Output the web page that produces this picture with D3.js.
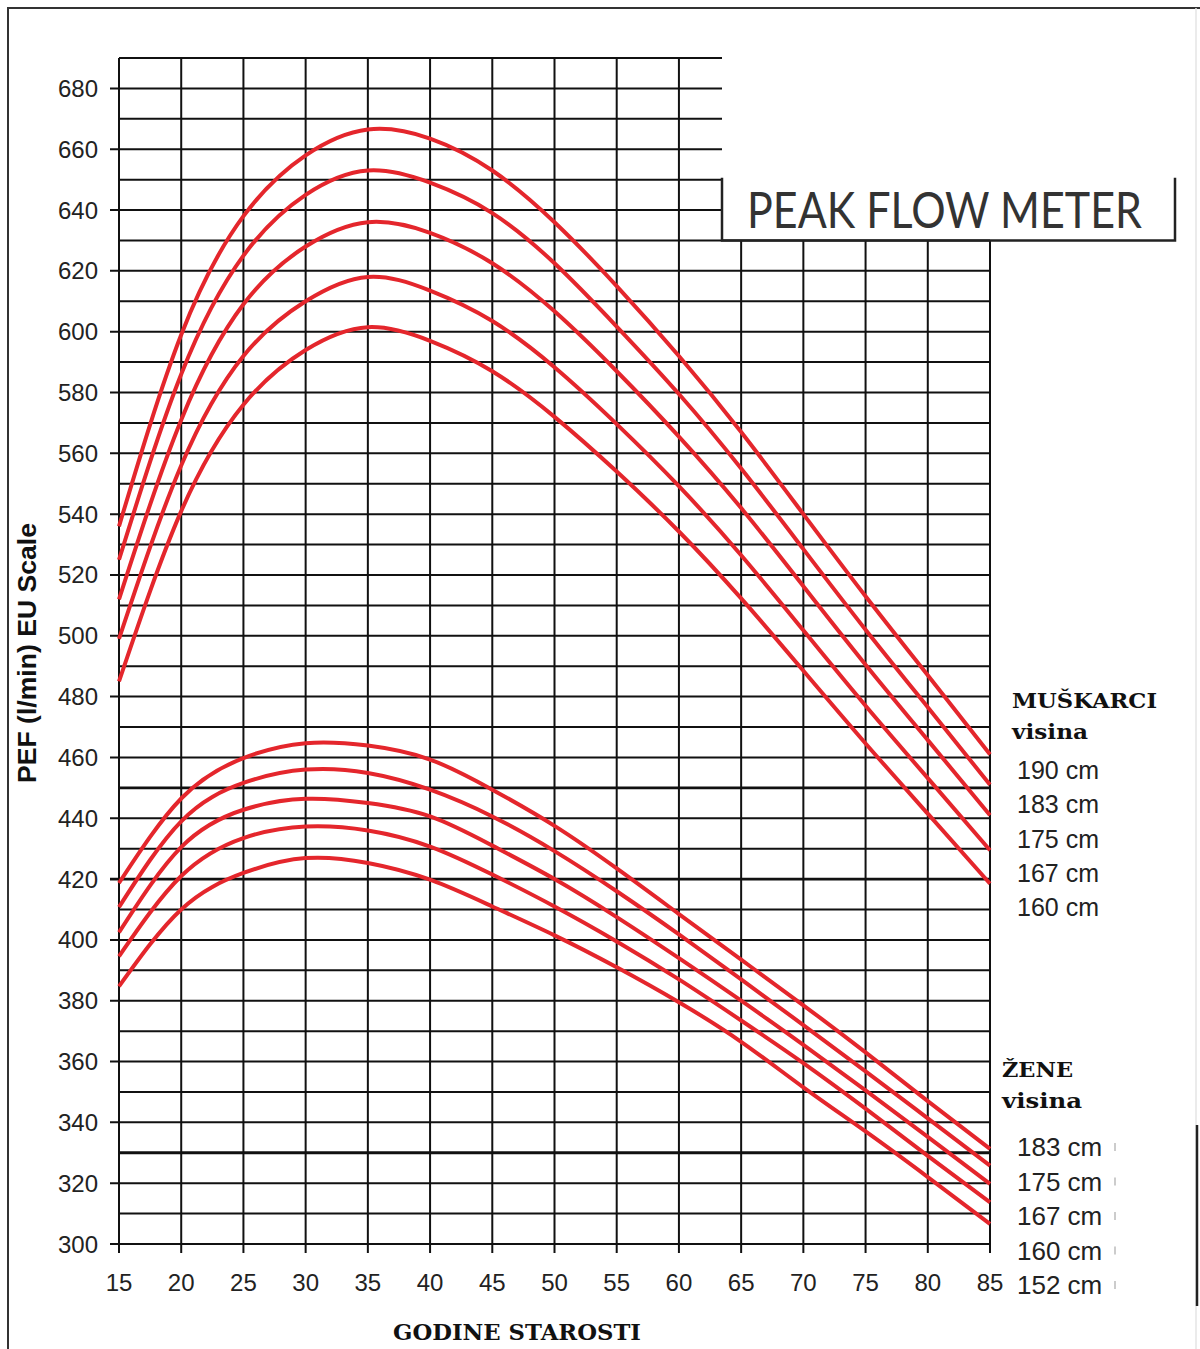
<!DOCTYPE html>
<html>
<head>
<meta charset="utf-8">
<script src="https://cdn.jsdelivr.net/npm/d3@7"></script>
<style>
  html, body { margin: 0; padding: 0; background: #fff; }
  svg { display: block; }
</style>
</head>
<body>
<svg id="chart" width="1200" height="1349"></svg>
<script>
// ---- DATA ----
const ages = [15, 20, 25, 30, 35, 40, 45, 50, 55, 60, 65, 70, 75, 80, 85];

const men190 = [536, 599, 638, 658, 666.5, 663.5, 653, 636, 615, 592, 567, 540, 513, 487, 461];
const men183 = [525, 586, 625, 645, 653, 649, 639, 622.5, 601.7, 579.5, 555, 528.5, 502, 476.5, 451];
const men175 = [512, 571, 609, 628, 636, 632.5, 622.5, 606.7, 587, 565.5, 542, 516.3, 490.5, 465.7, 441];
const men167 = [499, 556, 592, 610, 618, 613.5, 603.5, 588.3, 569.6, 549.2, 526.5, 501.8, 477, 453.2, 429.5];
const men160 = [485, 541, 576, 594, 601.5, 597, 587, 572, 554, 534.3, 512.3, 488.5, 464.6, 441.5, 418.5];

const women183 = [418.7, 446.5, 459.8, 464.7, 463.9, 459.3, 449.4, 437.5, 423.5, 408.5, 393.5, 378.5, 363, 347, 331.3];
const women175 = [410.8, 439, 451.6, 456, 454.9, 449.4, 440.6, 429.2, 416, 401.8, 387, 372, 356.8, 341.3, 325.8];
const women167 = [402.5, 430.5, 442.8, 446.4, 445, 440.6, 431, 420, 407.5, 394, 380, 365.5, 350.5, 335.2, 319.8];
const women160 = [394.6, 421, 433.5, 437.3, 436, 430.7, 421.5, 411, 399.5, 387, 373.5, 359.5, 344.5, 329, 313.7];
const women152 = [384.7, 410, 422, 426.9, 425.3, 419.8, 411, 401.5, 391, 379.5, 366.5, 351.5, 337, 322, 306.6];

const yTickValues = d3.range(300, 681, 20);
const xTickValues = d3.range(15, 86, 5);
const gridValues = d3.range(300, 691, 10);
const boldGridValues = [450, 420, 330];

const menLabels = ["190 cm", "183 cm", "175 cm", "167 cm", "160 cm"];
const womenLabels = ["183 cm", "175 cm", "167 cm", "160 cm", "152 cm"];

const title = "PEAK FLOW METER";
const yTitle = "PEF (l/min) EU Scale";
const xTitle = "GODINE STAROSTI";

// ---- LAYOUT ----
const svg = d3.select("#chart");
const x = d3.scaleLinear().domain([15, 85]).range([119, 990]);
const y = d3.scaleLinear().domain([300, 690]).range([1244, 58]);
const boxLeft = 722, boxRight = 1175;
const boxTopVal = 650, boxBottomVal = 630;

// outer frame
svg.append("line").attr("x1", 7).attr("x2", 1200).attr("y1", 8).attr("y2", 8)
  .attr("stroke", "#333").attr("stroke-width", 2);
svg.append("line").attr("x1", 8).attr("x2", 8).attr("y1", 8).attr("y2", 1349)
  .attr("stroke", "#333").attr("stroke-width", 2);
svg.append("line").attr("x1", 1196).attr("x2", 1196).attr("y1", 8).attr("y2", 1349)
  .attr("stroke", "#e4e4e4").attr("stroke-width", 1.5);
svg.append("line").attr("x1", 1197).attr("x2", 1197).attr("y1", 1125).attr("y2", 1306)
  .attr("stroke", "#222").attr("stroke-width", 2.5);

// grid
const grid = svg.append("g").attr("stroke", "#111").attr("fill", "none");
gridValues.forEach(v => {
  const xEnd = v > boxBottomVal ? boxLeft : x(85);
  const isMajor = v % 20 === 0;
  grid.append("line")
    .attr("x1", isMajor ? x(15) - 9 : x(15)).attr("x2", xEnd)
    .attr("y1", y(v)).attr("y2", y(v))
    .attr("stroke-width", boldGridValues.includes(v) ? 2.8 : 2);
});
xTickValues.forEach(a => {
  const yTop = a > 60 ? y(boxBottomVal) : y(690);
  grid.append("line")
    .attr("x1", x(a)).attr("x2", x(a))
    .attr("y1", yTop).attr("y2", y(300) + 9)
    .attr("stroke-width", 2);
});

// title box (no top edge)
svg.append("path")
  .attr("d", `M${boxLeft},${y(boxTopVal) - 2} V${y(boxBottomVal)} H${boxRight} V${y(boxTopVal) - 2}`)
  .attr("fill", "none").attr("stroke", "#222").attr("stroke-width", 2.5);
svg.append("text")
  .attr("transform", "translate(747,228) scale(0.843,1)")
  .attr("font-family", "Lato, 'Open Sans', sans-serif")
  .attr("font-weight", 400)
  .attr("font-size", 51)
  .attr("fill", "#333")
  .text(title);

// axes labels
const yLab = svg.append("g").attr("font-family", "'Liberation Sans', Arial, sans-serif")
  .attr("font-size", 24).attr("fill", "#222");
yTickValues.forEach(v => {
  yLab.append("text").attr("x", 98).attr("y", y(v)).attr("text-anchor", "end")
    .attr("dominant-baseline", "central").text(v);
});
xTickValues.forEach(a => {
  yLab.append("text").attr("x", x(a)).attr("y", 1282).attr("text-anchor", "middle")
    .attr("dominant-baseline", "central").text(a);
});

svg.append("text")
  .attr("transform", "translate(36,653) rotate(-90)")
  .attr("text-anchor", "middle")
  .attr("font-family", "'Liberation Sans', Arial, sans-serif")
  .attr("font-weight", "bold").attr("font-size", 25).attr("fill", "#111")
  .attr("textLength", 260).attr("lengthAdjust", "spacingAndGlyphs")
  .text(yTitle);

svg.append("text")
  .attr("x", 393).attr("y", 1340)
  .attr("font-family", "'DejaVu Serif', serif")
  .attr("font-weight", "bold").attr("font-size", 22).attr("fill", "#111")
  .attr("textLength", 248).attr("lengthAdjust", "spacingAndGlyphs")
  .text(xTitle);

// curves
const line = d3.line()
  .x((d, i) => x(ages[i]))
  .y(d => y(d))
  .curve(d3.curveNatural);
const allSeries = [men190, men183, men175, men167, men160, women183, women175, women167, women160, women152];
svg.append("g").selectAll("path").data(allSeries).join("path")
  .attr("d", d => line(d))
  .attr("fill", "none").attr("stroke", "#e4262c").attr("stroke-width", 4)
  .attr("stroke-linecap", "butt");

// legends
const serif = "'DejaVu Serif', serif";
svg.append("text").attr("x", 1012).attr("y", 708).attr("font-family", serif)
  .attr("font-weight", "bold").attr("font-size", 21).attr("fill", "#111")
  .attr("textLength", 145).attr("lengthAdjust", "spacingAndGlyphs").text("MUŠKARCI");
svg.append("text").attr("x", 1012).attr("y", 739).attr("font-family", serif)
  .attr("font-weight", "bold").attr("font-size", 21).attr("fill", "#111")
  .attr("textLength", 76).attr("lengthAdjust", "spacingAndGlyphs").text("visina");
svg.append("text").attr("x", 1002).attr("y", 1077).attr("font-family", serif)
  .attr("font-weight", "bold").attr("font-size", 21).attr("fill", "#111")
  .attr("textLength", 71).attr("lengthAdjust", "spacingAndGlyphs").text("ŽENE");
svg.append("text").attr("x", 1002).attr("y", 1108).attr("font-family", serif)
  .attr("font-weight", "bold").attr("font-size", 21).attr("fill", "#111")
  .attr("textLength", 80).attr("lengthAdjust", "spacingAndGlyphs").text("visina");

const legFont = "'Liberation Sans', Arial, sans-serif";
menLabels.forEach((t, i) => {
  svg.append("text").attr("x", 1017).attr("y", 770 + i * 34.3)
    .attr("dominant-baseline", "central")
    .attr("font-family", legFont).attr("font-size", 25).attr("fill", "#222").text(t);
});
womenLabels.forEach((t, i) => {
  svg.append("text").attr("x", 1017).attr("y", 1147 + i * 34.5)
    .attr("dominant-baseline", "central")
    .attr("font-family", legFont).attr("font-size", 26).attr("fill", "#222").text(t);
  svg.append("line").attr("x1", 1115).attr("x2", 1115)
    .attr("y1", 1147 + i * 34.5 - 4).attr("y2", 1147 + i * 34.5 + 4)
    .attr("stroke", "#ccc").attr("stroke-width", 2);
});
</script>
</body>
</html>
